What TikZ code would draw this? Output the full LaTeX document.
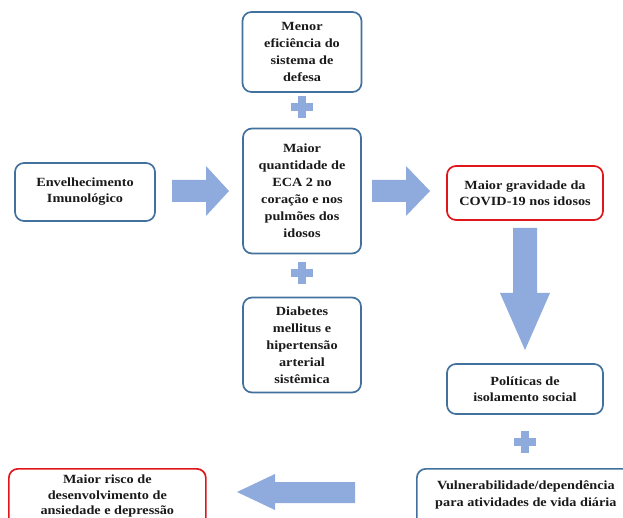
\documentclass[tikz,border=0pt]{standalone}
\usepackage{fontspec}
\setmainfont[FakeStretch=1.14]{Liberation Serif}
\usetikzlibrary{positioning,calc}
\definecolor{FLOWblue}{HTML}{41719C}
\definecolor{FLOWred}{HTML}{E0161B}
\definecolor{FLOWfill}{HTML}{8FAADC}
\definecolor{FLOWtext}{HTML}{1A1A1A}
\tikzset{flowbox/.style={draw=FLOWblue,line width=1.7pt,rounded corners=9pt,fill=white,
 align=center,text=FLOWtext,font=\fontsize{12.5}{17}\selectfont\bfseries,inner sep=2pt},
 redbox/.style={flowbox,draw=FLOWred},
 blockarr/.style={fill=FLOWfill,draw=none}}
\newcommand{\plussign}[1]{\fill[FLOWfill] ($#1+(-11,-4)$) rectangle ($#1+(11,4)$);
 \fill[FLOWfill] ($#1+(-4,-11)$) rectangle ($#1+(4,11)$);}

\begin{document}
\begin{tikzpicture}[x=1pt,y=-1pt]
\useasboundingbox (0,0) rectangle (623,518);
% left column and centre stack
\node[flowbox,minimum width=119pt,minimum height=80pt] (defesa) at (302,52) {Menor\\eficiência do\\sistema de\\defesa};
\node[flowbox,minimum width=118pt,minimum height=125pt] (eca) at (302,191) {Maior\\quantidade de\\ECA 2 no\\coração e nos\\pulmões dos\\idosos};
\node[flowbox,minimum width=118pt,minimum height=95pt] (diab) at (302,345) {Diabetes\\mellitus e\\hipertensão\\arterial\\sistêmica};
\node[flowbox,minimum width=140pt,minimum height=58pt,font=\fontsize{12.5}{16}\selectfont\bfseries] (envel) at (85,192) {Envelhecimento\\Imunológico};
% right column
\node[redbox,minimum width=156pt,minimum height=54pt,font=\fontsize{12.5}{16}\selectfont\bfseries] (grav) at (525,193) {Maior gravidade da\\COVID-19 nos idosos};
\node[flowbox,minimum width=156pt,minimum height=50pt,font=\fontsize{12.5}{16}\selectfont\bfseries] (polit) at (525,389) {Políticas de\\isolamento social};
\node[flowbox,minimum width=218pt,anchor=north west,inner ysep=12pt,text depth=30pt,font=\fontsize{12.5}{17}\selectfont\bfseries] (vuln) at (416,468) {Vulnerabilidade/dependência\\para atividades de vida diária};
\node[redbox,minimum width=197pt,anchor=north west,inner ysep=6pt,text depth=20pt,font=\fontsize{12.5}{15.5}\selectfont\bfseries] (risco) at (8,468) {Maior risco de\\desenvolvimento de\\ansiedade e depressão};
% plus signs
\plussign{(302,107)}
\plussign{(302,273)}
\plussign{(525,442)}
% block arrows
\fill[blockarr] (172,180) -- (206,180) -- (206,166) -- (229,191) -- (206,216) -- (206,202) -- (172,202) -- cycle;
\fill[blockarr] (372,180) -- (406,180) -- (406,166) -- (430,191) -- (406,216) -- (406,202) -- (372,202) -- cycle;
\fill[blockarr] (513,228) -- (537,228) -- (537,293) -- (550,293) -- (525,350) -- (500,293) -- (513,293) -- cycle;
\fill[blockarr] (355,482) -- (275,482) -- (275,474) -- (237,492) -- (275,510) -- (275,503) -- (355,503) -- cycle;
\end{tikzpicture}
\end{document}
